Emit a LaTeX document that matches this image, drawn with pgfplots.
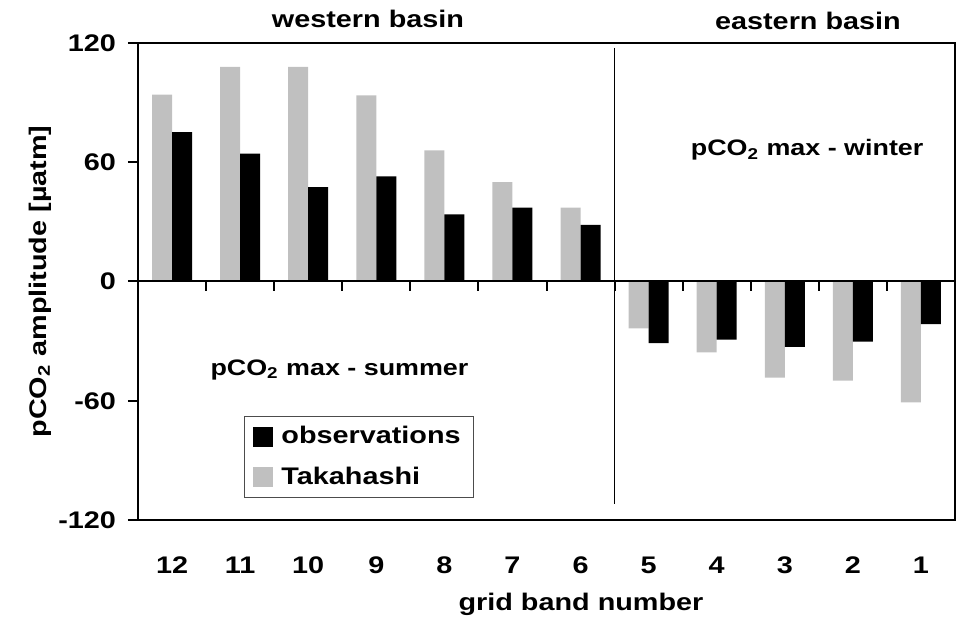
\documentclass[border=0pt]{standalone}
\usepackage{pgfplots}
\pgfplotsset{compat=1.18}
\usepackage{fontspec}
\setmainfont[FakeStretch=1.2]{Liberation Sans}
\definecolor{tgray}{RGB}{192,192,192}
\pgfplotstableread{
idx band taka obs
0 12 94.0 75.2
1 11 108.0 64.3
2 10 108.0 47.5
3 9 93.6 52.9
4 8 66.0 33.8
5 7 50.0 37.2
6 6 37.2 28.5
7 5 -23.6 -31.0
8 4 -35.7 -29.3
9 3 -48.4 -32.9
10 2 -49.9 -30.3
11 1 -60.8 -21.5
}\datatable
\begin{document}
\begin{tikzpicture}
\begin{axis}[
  name=ax,
  scale only axis,
  clip=false,
  width=408.5bp, height=238.5bp,
  xmin=-0.5, xmax=11.5,
  ymin=-120, ymax=120,
  ybar=0pt, bar width=10bp,
  axis line style={line width=1bp},
  font=\fontsize{12bp}{14bp}\selectfont\bfseries,
  xtick={0,...,11},
  xticklabels={12,11,10,9,8,7,6,5,4,3,2,1},
  xtick style={draw=none},
  xticklabel style={yshift=-10bp},
  ytick={-120,-60,0,60,120},
  yticklabels={-120,-60,0,60,120},
  ytick pos=left,
  tick align=outside,
  major tick length=5bp,
  ytick style={line width=1bp, black},
  yticklabel style={xshift=-2.5bp},
  xlabel={grid band number},
  ylabel={pCO\textsubscript{2} amplitude [µatm]},
  xlabel style={at={(axis description cs:0.5,0)}, anchor=center, xshift=17.25bp, yshift=-42bp},
  ylabel style={at={(axis description cs:0,0.5)}, anchor=center, yshift=49bp},
  reverse legend,
  legend style={at={(rel axis cs:0.1297,0.218)}, anchor=north west,
    draw=black!70, line width=0.5bp, inner xsep=4.5bp, inner ysep=3bp,
    font=\fontsize{12bp}{14bp}\selectfont\bfseries,
    row sep=6bp, column sep=2bp},
  legend cell align=left,
]
\addplot[fill=tgray, draw=none,
  legend image code/.code={\fill[tgray] (0bp,-5bp) rectangle (10bp,5bp);}]
  table[x=idx, y=taka] {\datatable};
\addlegendentry{Takahashi}
\addplot[fill=black, draw=none,
  legend image code/.code={\fill[black] (0bp,-5bp) rectangle (10bp,5bp);}]
  table[x=idx, y=obs] {\datatable};
\addlegendentry{observations}
% zero line with ticks
\draw[line width=1bp] (axis cs:-0.5,0) -- (axis cs:11.5,0);
\pgfplotsinvokeforeach{0.5,1.5,2.5,3.5,4.5,5.5,6.5,7.5,8.5,9.5,10.5,11.5}{
  \draw[line width=1bp] (axis cs:#1,0) -- ([yshift=-5bp]axis cs:#1,0);
}
% divider
\draw[line width=0.75bp] (axis cs:6.5,117.5) -- (axis cs:6.5,-112);
\node at (rel axis cs:0.2815,1) [yshift=12bp] {western basin};
\node at (rel axis cs:0.820,1) [yshift=11bp] {eastern basin};
\node[font=\fontsize{11.2bp}{13bp}\selectfont\bfseries] at (rel axis cs:0.2466,0.3145) {pCO\textsubscript{2} max - summer};
\node[font=\fontsize{11.2bp}{13bp}\selectfont\bfseries] at (rel axis cs:0.819,0.7757) {pCO\textsubscript{2} max - winter};
\coordinate (SW) at (rel axis cs:0,0);
\coordinate (NE) at (rel axis cs:1,1);
\end{axis}
\pgfresetboundingbox
\path[use as bounding box] ([xshift=-69bp,yshift=-52bp]SW) rectangle ([xshift=3bp,yshift=21.5bp]NE);
\end{tikzpicture}
\end{document}
